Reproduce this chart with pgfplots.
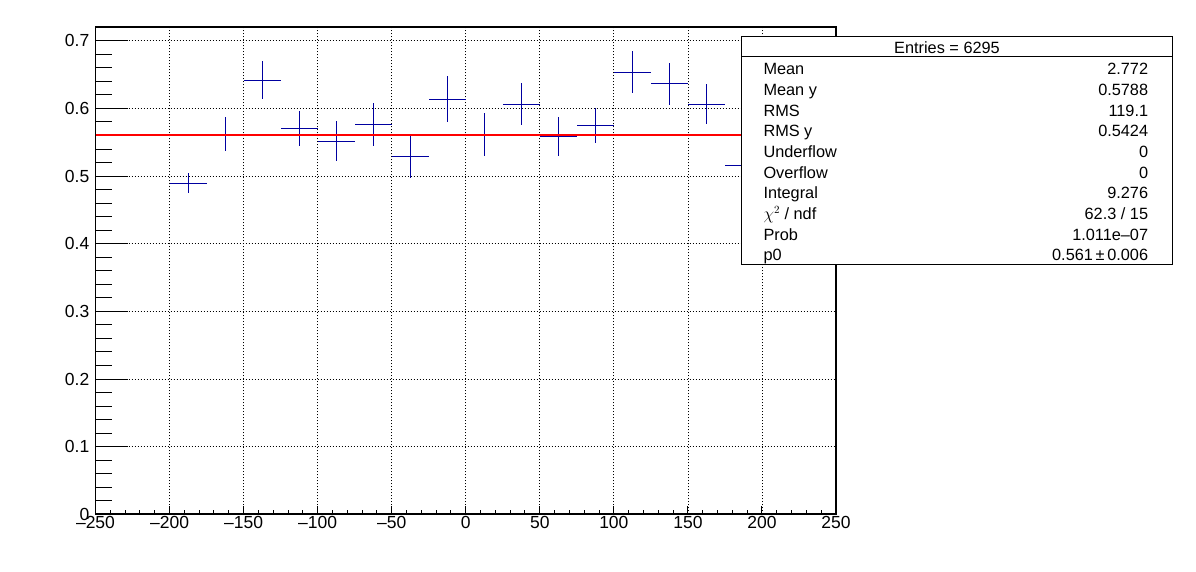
\documentclass[border=0pt]{standalone}
\usepackage{pgfplots}
\usepackage{pgfplotstable}
\pgfplotsset{compat=1.18}
\usepackage{fontspec}
\setmainfont{Liberation Sans}
\definecolor{rootblue}{RGB}{0,0,160}
\pgfplotstableread{
x y e
-187.5 0.4896 0.0152
-162.5 0.5621 0.0256
-137.5 0.6420 0.0286
-112.5 0.5710 0.0259
-87.5 0.5518 0.0296
-62.5 0.5769 0.0318
-37.5 0.5296 0.0322
-12.5 0.6139 0.0340
12.5 0.5614 0.0322
37.5 0.6065 0.0311
62.5 0.5584 0.0293
87.5 0.5754 0.0259
112.5 0.6538 0.0308
137.5 0.6365 0.0311
162.5 0.6065 0.0300
187.5 0.5163 0.0300
}\profdata
\begin{document}
\begin{tikzpicture}[x=1pt,y=1pt]
\useasboundingbox (0,0) rectangle (1196,572);
\begin{axis}[at={(95.5pt,57.7pt)}, anchor=south west, scale only axis,
  width=740.5pt, height=487pt,
  xmin=-250, xmax=250, ymin=0, ymax=0.72,
  xtick={-250,-200,-150,-100,-50,0,50,100,150,200,250},
  xticklabels={–250,–200,–150,–100,–50,0,50,100,150,200,250},
  ytick={0,0.1,0.2,0.3,0.4,0.5,0.6,0.7},
  yticklabels={0,0.1,0.2,0.3,0.4,0.5,0.6,0.7},
  minor x tick num=4, minor y tick num=4,
  tick pos=left, tick align=inside,
  major tick length=32pt, minor tick length=16pt,
  xtick style={/pgfplots/major tick length=8pt, /pgfplots/minor tick length=4pt},
  tick style={black, line width=1pt},
  axis line style={line width=1.8pt},
  grid=major,
  major grid style={black, line width=0.8pt, dash pattern=on 0.8pt off 2.2pt},
  ticklabel style={font=\fontsize{17.5}{20}\selectfont},
  yticklabel style={inner sep=0pt, anchor=east, xshift=-6pt},
  xticklabel style={inner sep=0pt, anchor=north, yshift=-1.7pt},
]
\addplot[draw=none, mark=none, forget plot,
  error bars/.cd, x dir=both, x fixed=12.5, y dir=both, y explicit,
  error mark=none, error bar style={draw=rootblue, solid, line width=1.1pt}]
  table[x=x, y=y, y error=e] {\profdata};
\addplot[red, line width=2pt, mark=none] coordinates {(-250,0.561) (250,0.561)};
\end{axis}
\draw[line width=1pt, fill=white] (741,307) rectangle (1172,535);
\draw[line width=1pt] (741,515) -- (1172,515);
\begin{scope}[every node/.style={font=\fontsize{16.3}{19}\selectfont, inner sep=0pt}]
\node[anchor=base] at (947,518.7) {Entries = 6295};
\node[anchor=base west] at (763.3,497) {Mean};
\node[anchor=base east] at (1148.3,497) {2.772};
\node[anchor=base west] at (763.3,476.35) {Mean y};
\node[anchor=base east] at (1148.3,476.35) {0.5788};
\node[anchor=base west] at (763.3,455.7) {RMS};
\node[anchor=base east] at (1148.3,455.7) {119.1};
\node[anchor=base west] at (763.3,435.05) {RMS y};
\node[anchor=base east] at (1148.3,435.05) {0.5424};
\node[anchor=base west] at (763.3,414.4) {Underflow};
\node[anchor=base east] at (1148.3,414.4) {0};
\node[anchor=base west] at (763.3,393.75) {Overflow};
\node[anchor=base east] at (1148.3,393.75) {0};
\node[anchor=base west] at (763.3,373.1) {Integral};
\node[anchor=base east] at (1148.3,373.1) {9.276};
\node[anchor=base west] at (763.3,352.45) {$\chi^{2}$ / ndf};
\node[anchor=base east] at (1148.3,352.45) {62.3 / 15};
\node[anchor=base west] at (763.3,331.8) {Prob};
\node[anchor=base east] at (1148.3,331.8) {1.011e–07};
\node[anchor=base west] at (763.3,311.15) {p0};
\node[anchor=base east] at (1148.3,311.15) {0.561\,±\,0.006};
\end{scope}
\end{tikzpicture}
\end{document}
